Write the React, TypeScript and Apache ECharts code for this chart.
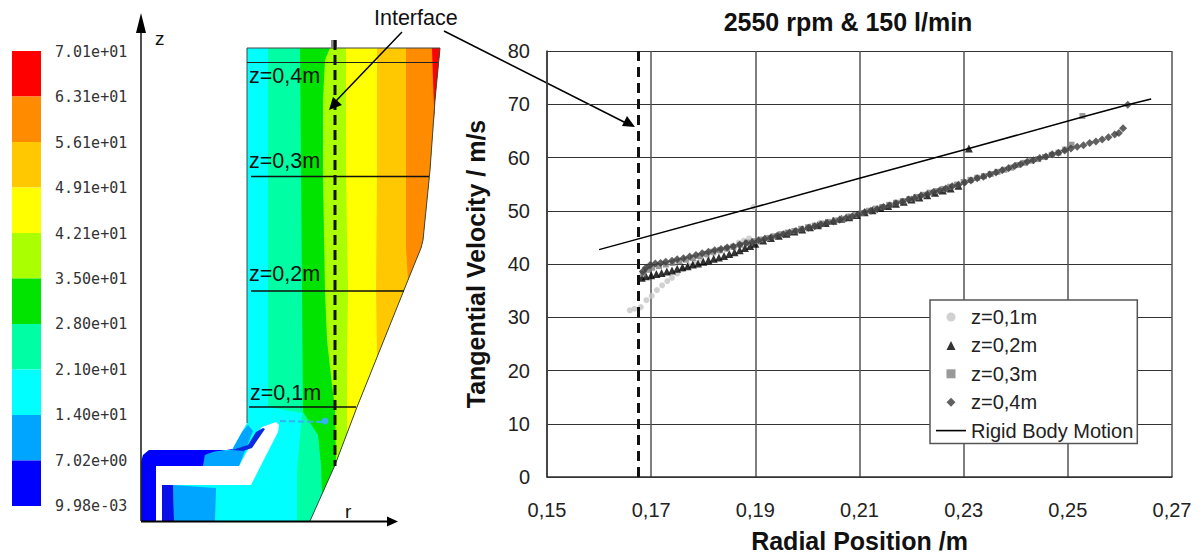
import React, { useEffect, useRef } from "react";
import * as echarts from "echarts";

const SANS = "Liberation Sans";
const xTicks = [0.15, 0.17, 0.19, 0.21, 0.23, 0.25, 0.27];
const interfaceR = 0.1675;

const z01 = [[0.1659,31.3],[0.1668,31.6],[0.168,31.9],[0.1691,33.2],[0.1701,34],[0.1711,35.1],[0.1721,36],[0.1731,36.8],[0.174,37.4],[0.175,38.2],[0.1761,39],[0.1772,39.7],[0.1784,40.3],[0.1796,40.9],[0.1808,41.5],[0.182,42],[0.1832,42.4],[0.1844,42.9],[0.1856,43.4],[0.1868,44],[0.1878,44.4],[0.1888,44.8],[0.1897,50.7]];
const z02 = [[0.1682,37.4],[0.169,37.7],[0.17,37.9],[0.171,38.1],[0.172,38.3],[0.173,38.6],[0.174,38.8],[0.175,39.1],[0.176,39.4],[0.177,39.6],[0.178,39.9],[0.179,40.1],[0.18,40.4],[0.181,40.7],[0.182,41],[0.183,41.2],[0.184,41.5],[0.185,41.9],[0.186,42.2],[0.187,42.6],[0.188,43],[0.189,43.4],[0.19,43.8],[0.1915,44.4],[0.193,44.9],[0.1945,45.3],[0.196,45.7],[0.1975,46.1],[0.199,46.5],[0.2005,46.9],[0.202,47.3],[0.2035,47.7],[0.205,48.1],[0.2065,48.5],[0.208,48.8],[0.2095,49.2],[0.211,49.7],[0.2125,50.1],[0.214,50.5],[0.2155,50.9],[0.217,51.3],[0.2185,51.7],[0.22,52.1],[0.2215,52.5],[0.223,52.9],[0.2245,53.4],[0.226,53.8],[0.2275,54.2],[0.229,54.7],[0.231,61.7]];
const z03 = [[0.1684,38.2],[0.1692,38.9],[0.1702,39.3],[0.1715,39.6],[0.1728,39.9],[0.1741,40.2],[0.1754,40.5],[0.1767,40.8],[0.178,41.1],[0.1793,41.5],[0.1806,41.9],[0.1819,42.3],[0.1832,42.6],[0.1845,42.9],[0.1858,43.2],[0.1871,43.6],[0.1884,44],[0.1897,44.3],[0.191,44.6],[0.1923,44.9],[0.1936,45.2],[0.1949,45.6],[0.1962,45.9],[0.1975,46.2],[0.1988,46.6],[0.2001,46.9],[0.2014,47.2],[0.2027,47.6],[0.204,47.9],[0.2053,48.2],[0.2066,48.5],[0.2079,48.9],[0.2092,49.2],[0.2105,49.6],[0.2118,50],[0.2131,50.4],[0.2144,50.7],[0.2157,51.1],[0.217,51.5],[0.2183,51.8],[0.2196,52.2],[0.2209,52.6],[0.2222,53],[0.2235,53.4],[0.2248,53.7],[0.2261,54.1],[0.2274,54.5],[0.2287,54.9],[0.23,55.4],[0.2313,55.8],[0.2326,56.2],[0.2339,56.5],[0.2352,56.9],[0.2365,57.3],[0.2378,57.7],[0.2391,58.1],[0.2404,58.6],[0.2417,59],[0.243,59.4],[0.2443,59.7],[0.2456,60.1],[0.2469,60.5],[0.2482,60.9],[0.2495,61.5],[0.2507,62.4],[0.2528,67.8]];
const z04 = [[0.1684,38.6],[0.169,39.3],[0.1698,39.8],[0.1708,40.1],[0.1718,40.2],[0.1728,40.4],[0.174,40.6],[0.175,40.9],[0.1762,41.1],[0.1774,41.4],[0.1786,41.7],[0.1798,42],[0.181,42.3],[0.1822,42.6],[0.1834,42.8],[0.1846,43.1],[0.1858,43.3],[0.187,43.6],[0.1882,43.9],[0.1894,44.1],[0.1906,44.4],[0.1918,44.7],[0.193,45],[0.1942,45.3],[0.1954,45.6],[0.1966,45.9],[0.1978,46.2],[0.199,46.5],[0.2002,46.8],[0.2014,47.1],[0.2026,47.4],[0.2038,47.7],[0.205,48],[0.2062,48.3],[0.2074,48.6],[0.2086,48.9],[0.2098,49.3],[0.211,49.7],[0.2122,50],[0.2134,50.3],[0.2146,50.7],[0.2158,51],[0.217,51.4],[0.2182,51.7],[0.2194,52.1],[0.2206,52.4],[0.2218,52.8],[0.223,53.1],[0.2242,53.5],[0.2254,53.8],[0.2266,54.2],[0.2278,54.6],[0.229,54.9],[0.2302,55.3],[0.2314,55.7],[0.2326,56.1],[0.2338,56.4],[0.235,56.8],[0.2362,57.2],[0.2374,57.6],[0.2386,58],[0.2398,58.4],[0.241,58.8],[0.2422,59.2],[0.2434,59.5],[0.2446,59.9],[0.2458,60.2],[0.247,60.6],[0.2482,60.9],[0.2494,61.3],[0.2506,61.7],[0.2518,62],[0.253,62.3],[0.2542,62.7],[0.2554,63],[0.2566,63.4],[0.2578,63.8],[0.259,64.3],[0.2598,64.6],[0.2606,65.5],[0.2615,69.9]];
const rigid = [[0.16,42.7],[0.19,50.7],[0.21,56.1],[0.231,61.7],[0.2528,67.6],[0.2615,69.9],[0.266,71]];

// Contour legend of the CFD panel
const contourLabels = ["7.01e+01","6.31e+01","5.61e+01","4.91e+01","4.21e+01","3.50e+01","2.80e+01","2.10e+01","1.40e+01","7.02e+00","9.98e-03"];
const contourColors = ["#ff0000","#ff8c00","#ffc800","#ffff00","#aaff00","#00e400","#00ffa5","#00ffff","#00a5ff","#0000ff"];

// Section geometry (page pixels)
const domain = [[247,48],[440,48],[435,100],[430,170],[423,240],[421,248],[410,275],[357,407],[335,465],[310,521],[162,521],[162,485],[251,485],[278,432],[279,425],[276,422],[262,427],[257,433],[239,466],[156,466],[156,521],[141,521],[141,462],[143,455],[149,450],[232,450],[247,423]];
const outline = [[247,423],[247,48],[440,48],[435,100],[430,170],[423,240],[421,248],[410,275],[357,407],[335,465],[310,521]];
const edge = [[310,521],[335,465],[357,407],[410,275],[421,248],[423,240],[430,170],[435,100],[440,48]];
const bandSpring = [[268,48],[268,290],[268,407],[302,413],[297,470],[297,521],...edge];
const bandGreen = [[300,48],[302,290],[303,412],[318,435],[321,465],[322,494],...edge.slice(1)];
const bandLime = [[330,48],[325,60],[323,100],[323,176],[325,291],[327,340],[332,385],[335,408],[336,462],...edge.slice(1)];
const bandYellow = [[346,48],[346,176],[348,291],[347,350],[347,402],[347,433],...edge.slice(2)];
const bandAmber = [[377,48],[377,176],[376,291],[377,357],...edge.slice(3)];
const bandOrange = [[406,48],[406,176],[406,248],[408,280],...edge.slice(4)];
const bandRed = [[432,48],[433,80],[434.5,120],[435,100],[440,48]];
const inletLight = [[203,466],[205,455],[213,452],[232,450],[242,432],[248,425],[253,431],[239,466]];
const inletDark = [[141,521],[141,462],[143,455],[149,450],[232,450],[233,449],[213,452],[205,455],[203,466],[156,466],[156,521]];
const streak = [[232,450],[248,445],[256,432],[263,428],[265,429],[252,448],[243,451]];
const lowerDark = [[162,485],[173,485],[174,521],[162,521]];
const lowerLight = [[173,485],[216,488],[215,521],[174,521]];

const legendIcons: Record<string, string> = {
  circle: "path://M5 0A5 5 0 1 1 5 10A5 5 0 1 1 5 0Z",
  triangle: "path://M5 0L10 10H0Z",
  square: "path://M0 0H10V10H0Z",
  diamond: "path://M5 0L10 5L5 10L0 5Z",
  line: "path://M0 0H30V1.6H0Z",
};

const poly = (points: number[][], fill: string) => ({ type: "polygon", silent: true, shape: { points }, style: { fill } });
const seg = (x1: number, y1: number, x2: number, y2: number, stroke = "#000", lineWidth = 1.5, lineDash?: number[]) => ({
  type: "line", silent: true, shape: { x1, y1, x2, y2 }, style: { stroke, lineWidth, lineDash },
});
const txt = (x: number, y: number, text: string, fontSize: number, fontFamily = SANS, textAlign = "left", fill = "#111") => ({
  type: "text", silent: true, x, y, style: { text, fontSize, fontFamily, textAlign, textVerticalAlign: "middle", fill },
});

function buildGraphic() {
  const els: any[] = [];
  contourColors.forEach((c, i) => {
    els.push({ type: "rect", silent: true, shape: { x: 12, y: 51 + i * 45.5, width: 29, height: 45.5 }, style: { fill: c } });
  });
  contourLabels.forEach((t, i) => els.push(txt(55, 52 + i * 45.4, t, 15, "DejaVu Sans Mono", "left", "#333")));
  els.push(poly(domain, contourColors[7]));
  els.push(poly(bandSpring, contourColors[6]), poly(bandGreen, contourColors[5]), poly(bandLime, contourColors[4]),
    poly(bandYellow, contourColors[3]), poly(bandAmber, contourColors[2]), poly(bandOrange, contourColors[1]), poly(bandRed, contourColors[0]));
  els.push(poly(inletLight, contourColors[8]), poly(inletDark, contourColors[9]), poly(streak, "#0a2ae0"),
    poly(lowerLight, contourColors[8]), poly(lowerDark, "#0a10e8"));
  els.push(seg(280, 421, 322, 422, "#35b0f0", 2, [6, 3]));
  els.push({ type: "circle", silent: true, shape: { cx: 325, cy: 421, r: 3.5 }, style: { fill: "#35b0f0" } });
  els.push({ type: "polyline", silent: true, shape: { points: outline }, style: { fill: "none", stroke: "#444", lineWidth: 1 } });
  els.push({ type: "rect", silent: true, shape: { x: 331, y: 40, width: 6, height: 8 }, style: { fill: "#8a8a8a" } });
  els.push(seg(247, 62.5, 438, 62.5, "#222", 1), seg(251, 176.5, 429, 176.5, "#111", 1.6), seg(251, 291, 404, 291, "#111", 1.6), seg(249, 407, 356, 407, "#111", 1.6));
  els.push(txt(249, 76, "z=0,4m", 21.5), txt(249, 161, "z=0,3m", 21.5), txt(249, 274, "z=0,2m", 21.5), txt(250, 393, "z=0,1m", 21.5));
  els.push(seg(335, 40, 335, 466, "#111", 3, [10, 5]));
  els.push(seg(141, 521, 141, 25, "#222", 1.6), poly([[141, 13], [136, 33], [146, 33]], "#000"));
  els.push(seg(141, 521.5, 392, 521.5, "#000", 2), poly([[398, 521.5], [387, 516.5], [387, 526.5]], "#000"));
  els.push(txt(155, 38, "z", 19), txt(345, 511, "r", 19));
  els.push(txt(374, 18, "Interface", 21.5));
  els.push(seg(402, 32, 335, 102), poly([[329, 110], [333, 97], [342, 105]], "#000"));
  els.push(seg(444, 31, 626, 123), poly([[635, 127], [622, 126], [627, 116]], "#000"));
  return els;
}

export default function App() {
  const ref = useRef<HTMLDivElement>(null);
  useEffect(() => {
    const chart = echarts.init(ref.current!, null, { renderer: "svg" });
    chart.setOption({
      animation: false,
      backgroundColor: "#fff",
      textStyle: { fontFamily: SANS },
      title: {
        text: "2550 rpm & 150 l/min", left: 843, top: 4, textAlign: "center",
        textStyle: { fontFamily: SANS, fontWeight: "bold", fontSize: 25, color: "#111" },
      },
      grid: { left: 547, right: 30, top: 51, bottom: 78, outerBoundsMode: "none" },
      xAxis: {
        type: "value", min: 0.15, max: 0.27,
        name: "Radial Position /m", nameLocation: "middle", nameGap: 51,
        nameTextStyle: { fontFamily: SANS, fontWeight: "bold", fontSize: 25, color: "#111" },
        axisLine: { onZero: false, lineStyle: { color: "#333", width: 1.5 } },
        axisTick: { show: false, customValues: xTicks },
        axisLabel: { customValues: xTicks, margin: 23, fontSize: 20, color: "#222", formatter: (v: number) => v.toFixed(2).replace(".", ",") },
        splitLine: { show: true, lineStyle: { color: "#555", width: 1.5 } },
      },
      yAxis: {
        type: "value", min: 0, max: 80, interval: 10,
        name: "Tangential Velocity / m/s", nameLocation: "middle", nameGap: 59,
        nameTextStyle: { fontFamily: SANS, fontWeight: "bold", fontSize: 25, color: "#111" },
        axisLine: { show: true, lineStyle: { color: "#333", width: 1.5 } },
        axisTick: { show: false },
        axisLabel: { margin: 17, fontSize: 20, color: "#222" },
        splitLine: { show: true, lineStyle: { color: "#333", width: 1 } },
      },
      legend: {
        orient: "vertical", left: 930, top: 300, itemWidth: 30, itemHeight: 9, itemGap: 8.4,
        padding: [7, 4, 3, 6], backgroundColor: "#fff", borderColor: "#555", borderWidth: 1.5,
        textStyle: { fontFamily: SANS, fontSize: 20, color: "#222" },
        data: [
          { name: "z=0,1m", icon: legendIcons.circle },
          { name: "z=0,2m", icon: legendIcons.triangle },
          { name: "z=0,3m", icon: legendIcons.square },
          { name: "z=0,4m", icon: legendIcons.diamond },
          { name: "Rigid Body Motion", icon: legendIcons.line },
        ],
      },
      series: [
        { name: "z=0,1m", type: "scatter", data: z01, symbol: "circle", symbolSize: 6, itemStyle: { color: "#c6c6c6" } },
        { name: "z=0,2m", type: "scatter", data: z02, symbol: "triangle", symbolSize: 8, itemStyle: { color: "#000" } },
        { name: "z=0,3m", type: "scatter", data: z03, symbol: "rect", symbolSize: 6, itemStyle: { color: "#808080" } },
        { name: "z=0,4m", type: "scatter", data: z04, symbol: "diamond", symbolSize: 8, itemStyle: { color: "#3a3a3a" } },
        {
          name: "Rigid Body Motion", type: "line", data: rigid, showSymbol: false, symbol: "none",
          lineStyle: { color: "#000", width: 1.5 }, itemStyle: { color: "#000" },
          markLine: {
            silent: true, symbol: "none", precision: 4, label: { show: false },
            lineStyle: { color: "#111", width: 3, type: [10, 6] },
            data: [{ xAxis: interfaceR }],
          },
        },
      ],
      graphic: { elements: buildGraphic() },
    });
    return () => chart.dispose();
  }, []);
  return <div ref={ref} style={{ position: "fixed", left: 0, top: 0, width: 1202, height: 555 }} />;
}
